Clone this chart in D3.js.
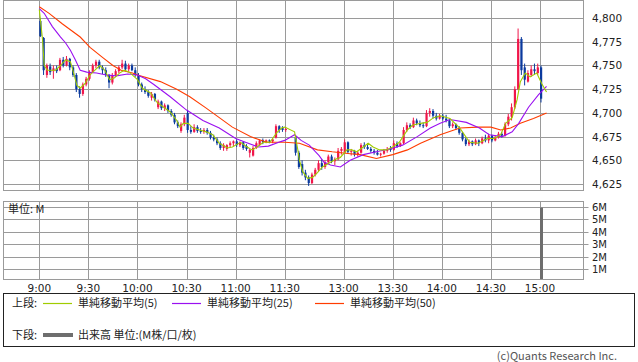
<!DOCTYPE html>
<html><head><meta charset="utf-8">
<script src="https://cdn.jsdelivr.net/npm/d3@7/dist/d3.min.js"></script>
<style>
html,body{margin:0;padding:0;background:#fff;}
svg{display:block;font-family:"Noto Sans CJK JP","Noto Sans",sans-serif;}
.num{font-family:"DejaVu Sans",sans-serif;}
</style></head>
<body>
<svg id="c" width="638" height="362"></svg>
<script>
// ---------- DATA ----------
const timeTicks = ["9:00","9:30","10:00","10:30","11:00","11:30","13:00","13:30","14:00","14:30","15:00"];
const priceTicks = [4625,4650,4675,4700,4725,4750,4775,4800];
const volumeTicks = [1,2,3,4,5,6];
// 2-minute candles: morning 9:00-11:30, afternoon 12:30-15:00
const sessionStarts = ["9:00","12:30"];
const candleStep = 2;
const candlesPerSession = 76;
const candleOpen = [
4797,4779,4740,4749,4744,4747,4745,4756,4750,4757,4748,4740,4725,4720,4730,4736,4743,4750,4754,4748,
4745,4740,4732,4740,4744,4748,4752,4746,4750,4745,4740,4730,4725,4722,4716,4720,4706,4712,4705,4708,
4702,4698,4690,4681,4688,4700,4682,4680,4685,4681,4680,4682,4679,4674,4672,4668,4663,4662,4666,4668,
4670,4666,4669,4665,4658,4655,4663,4666,4671,4669,4671,4670,4674,4686,4684,4682,
4674,4658,4646,4637,4632,4626,4635,4640,4647,4643,4648,4654,4649,4651,4660,4658,4669,4659,4660,4656,
4658,4666,4664,4662,4660,4658,4656,4657,4660,4662,4661,4668,4665,4668,4682,4687,4685,4692,4689,4687,
4686,4700,4702,4697,4694,4697,4694,4692,4686,4688,4684,4679,4672,4667,4670,4667,4671,4668,4673,4671,
4676,4671,4674,4678,4676,4688,4696,4706,4725,4778,4748,4733,4740,4746,4742,4748];
const candleHigh = [
4800,4780,4752,4752,4750,4750,4758,4759,4760,4758,4750,4742,4728,4732,4738,4745,4752,4756,4756,4750,
4748,4741,4742,4746,4750,4756,4755,4752,4752,4748,4742,4732,4728,4724,4722,4721,4714,4713,4710,4709,
4704,4700,4692,4690,4698,4703,4686,4688,4687,4684,4684,4684,4681,4677,4674,4670,4668,4667,4670,4671,
4672,4670,4670,4667,4662,4665,4670,4672,4673,4672,4672,4673,4688,4687,4686,4685,
4675,4660,4650,4640,4634,4637,4642,4650,4651,4650,4656,4656,4653,4663,4664,4672,4670,4662,4661,4660,
4668,4669,4668,4664,4662,4661,4658,4662,4664,4665,4671,4670,4669,4685,4690,4689,4695,4694,4692,4690,
4703,4705,4704,4700,4699,4699,4698,4694,4690,4689,4686,4680,4674,4672,4671,4673,4672,4675,4677,4678,
4677,4676,4680,4680,4690,4699,4710,4728,4789,4780,4752,4745,4750,4752,4752,4750];
const candleLow = [
4780,4740,4737,4740,4736,4742,4744,4748,4749,4745,4738,4722,4716,4718,4728,4734,4742,4747,4746,4741,
4738,4726,4730,4738,4742,4746,4744,4744,4744,4738,4728,4722,4720,4716,4713,4712,4704,4703,4702,4700,
4696,4688,4684,4679,4686,4679,4678,4679,4679,4678,4678,4677,4672,4670,4666,4661,4660,4660,4664,4665,
4664,4664,4661,4660,4653,4654,4662,4665,4667,4668,4668,4668,4673,4679,4680,4680,
4655,4641,4634,4629,4623,4625,4633,4638,4640,4641,4646,4647,4645,4650,4656,4657,4657,4655,4654,4654,
4657,4662,4661,4658,4656,4655,4654,4656,4658,4659,4660,4663,4664,4667,4680,4683,4684,4687,4685,4684,
4685,4696,4694,4692,4693,4692,4690,4684,4684,4682,4677,4670,4665,4665,4665,4666,4665,4667,4669,4668,
4669,4670,4673,4674,4675,4686,4692,4704,4724,4740,4729,4732,4738,4740,4740,4711];
const candleClose = [
4781,4745,4750,4743,4747,4744,4756,4750,4757,4748,4740,4725,4720,4730,4736,4743,4750,4754,4748,4745,
4740,4732,4740,4744,4748,4752,4746,4750,4745,4740,4730,4725,4722,4718,4720,4714,4712,4705,4708,4702,
4698,4690,4686,4688,4695,4682,4680,4685,4681,4680,4682,4679,4674,4672,4668,4663,4666,4666,4668,4670,
4666,4669,4663,4662,4661,4663,4668,4671,4669,4671,4670,4672,4686,4682,4682,4683,
4658,4643,4637,4632,4626,4635,4640,4647,4643,4648,4654,4649,4651,4660,4662,4669,4659,4660,4656,4658,
4666,4664,4662,4660,4658,4656,4657,4660,4662,4661,4668,4665,4668,4682,4687,4685,4692,4689,4687,4686,
4700,4702,4697,4694,4697,4694,4692,4686,4688,4684,4679,4672,4667,4670,4667,4671,4668,4673,4671,4676,
4671,4674,4678,4676,4688,4696,4706,4725,4778,4745,4735,4742,4746,4744,4748,4715];

const ma5 = [["9:00",4809],["9:02",4777],["9:03",4750],["9:05",4745],["9:10",4745],["9:13",4750],["9:16",4756],
["9:19",4754],["9:21",4742],["9:23",4729],["9:25",4726],["9:28",4731],["9:31",4740],["9:34",4745],["9:37",4750],
["9:40",4745],["9:43",4735],["9:46",4737],["9:49",4742],["9:52",4745],["9:55",4743],["10:00",4735],["10:03",4726],
["10:08",4721],["10:12",4711],["10:16",4706],["10:20",4701],["10:24",4692],["10:26",4685],["10:28",4689],
["10:31",4689],["10:34",4684],["10:38",4682],["10:42",4680],["10:46",4677],["10:50",4668],["10:55",4663],
["10:58",4664],["11:03",4669],["11:07",4664],["11:10",4661],["11:13",4664],["11:17",4669],["11:21",4669],
["11:25",4679],["11:28",4684],["11:30",4685],["12:30",4680],["12:32",4661],["12:33",4650],["12:35",4638],
["12:38",4631],["12:41",4632],["12:44",4637],["12:47",4643],["12:52",4648],["12:56",4652],["12:58",4653],
["13:02",4661],["13:05",4661],["13:08",4659],["13:12",4664],["13:15",4668],["13:18",4664],["13:22",4661],
["13:26",4661],["13:30",4664],["13:34",4669],["13:39",4682],["13:42",4687],["13:47",4689],["13:51",4690],
["13:55",4695],["13:59",4697],["14:05",4694],["14:11",4684],["14:17",4669],["14:22",4668],["14:28",4673],
["14:32",4673],["14:36",4677],["14:39",4689],["14:43",4695],["14:46",4714],["14:48",4733],["14:51",4742],
["14:54",4738],["14:58",4742],["15:01",4731],["15:04",4722]];
const ma25 = [["9:00",4810],["9:03",4805],["9:08",4791],["9:13",4780],["9:16",4774],["9:19",4766],["9:22",4756],
["9:25",4745],["9:29",4743],["9:35",4742],["9:41",4740],["9:47",4739],["9:54",4741],["10:00",4740],["10:05",4736],
["10:10",4730],["10:20",4717],["10:30",4703],["10:40",4692],["10:50",4684],["11:00",4673],["11:06",4669],
["11:14",4664],["11:20",4665],["11:28",4670],["11:30",4671],["12:30",4677],["12:34",4671],["12:39",4666],
["12:45",4655],["12:48",4648],["12:52",4645],["12:58",4643],["13:04",4650],["13:12",4656],["13:20",4659],
["13:28",4662],["13:36",4666],["13:45",4675],["13:53",4684],["13:59",4689],["14:05",4693],["14:15",4690],
["14:23",4684],["14:29",4677],["14:37",4675],["14:43",4680],["14:47",4689],["14:53",4706],["14:59",4719],["15:04",4728]];
const ma50 = [["9:00",4812],["9:06",4805],["9:14",4794],["9:25",4780],["9:31",4769],["9:39",4758],["9:45",4750],
["9:50",4745],["9:57",4742],["10:00",4740],["10:14",4733],["10:24",4725],["10:32",4717],["10:42",4705],
["10:46",4700],["10:58",4685],["11:09",4675],["11:19",4669],["11:30",4669],["12:33",4668],["12:44",4661],
["12:53",4659],["13:04",4657],["13:10",4656],["13:20",4652],["13:30",4656],["13:39",4661],["13:47",4668],
["13:59",4677],["14:11",4684],["14:22",4685],["14:30",4685],["14:36",4682],["14:42",4684],["14:48",4689],
["14:56",4694],["15:04",4700]];
const volumeTimes = ["15:00"];
const volumeValues = [5.95];

const legendTop = ["単純移動平均(5)","単純移動平均(25)","単純移動平均(50)"];
const legendBottom = "出来高 単位:(M株/口/枚)";

// ---------- HELPERS ----------
function toMin(t){const p=t.split(":").map(Number);return p[0]*60+p[1]-540;}
function sessMin(t){const m=toMin(t);return m<=150?m:m-54;}   // lunch break compressed
function fmt(m){return Math.floor(m/60)+":"+String(m%60).padStart(2,"0");}

const candleTimes=[];
sessionStarts.forEach(s=>{const base=toMin(s)+540;for(let i=0;i<candlesPerSession;i++)candleTimes.push(fmt(base+i*candleStep));});
const candles=candleTimes.map((t,i)=>({t,o:candleOpen[i],h:candleHigh[i],l:candleLow[i],c:candleClose[i]}));

// ---------- LAYOUT ----------
const svg=d3.select("#c");
const L=3.5,R=583.5,T=0.5,B=190.5, VT=201.5, VB=279.5;
const x=d3.scaleLinear().domain([0,306]).range([39.3,540]);
const y=d3.scaleLinear().domain([4618.7,4818]).range([190,1]);
const yv=d3.scaleLinear().domain([0,6.5]).range([281.4,200.8]);
const grid="#9a9a9a";

svg.append("rect").attr("width",638).attr("height",362).attr("fill","#fff");

// price panel grid
const gp=svg.append("g");
gp.selectAll(".hy").data(priceTicks).join("line")
 .attr("x1",L).attr("x2",R).attr("y1",d=>Math.round(y(d))+0.5).attr("y2",d=>Math.round(y(d))+0.5)
 .attr("stroke",grid);
gp.selectAll(".vx").data(timeTicks).join("line")
 .attr("x1",d=>Math.round(x(sessMin(d)))+0.5).attr("x2",d=>Math.round(x(sessMin(d)))+0.5)
 .attr("y1",T).attr("y2",B).attr("stroke",grid);
gp.append("rect").attr("x",L).attr("y",T).attr("width",R-L).attr("height",B-T)
 .attr("fill","none").attr("stroke",grid);

// volume panel grid
const gv=svg.append("g");
gv.selectAll(".hy").data(volumeTicks).join("line")
 .attr("x1",L).attr("x2",R+5).attr("y1",d=>Math.round(yv(d))+0.5).attr("y2",d=>Math.round(yv(d))+0.5)
 .attr("stroke",grid);
gv.selectAll(".vx").data(timeTicks).join("line")
 .attr("x1",d=>Math.round(x(sessMin(d)))+0.5).attr("x2",d=>Math.round(x(sessMin(d)))+0.5)
 .attr("y1",VT).attr("y2",VB).attr("stroke",grid);
gv.append("rect").attr("x",L).attr("y",VT).attr("width",R-L).attr("height",VB-VT)
 .attr("fill","none").attr("stroke",grid);

// candles
const up="#f0164a", dn="#0b3a9e";
const gc=svg.append("g");
gc.selectAll("line").data(candles).join("line")
 .attr("x1",d=>x(sessMin(d.t))+1).attr("x2",d=>x(sessMin(d.t))+1)
 .attr("y1",d=>y(d.h)).attr("y2",d=>y(d.l))
 .attr("stroke",d=>d.c>=d.o?up:dn).attr("stroke-width",1);
gc.selectAll("rect").data(candles).join("rect")
 .attr("x",d=>x(sessMin(d.t))).attr("width",2.2)
 .attr("y",d=>y(Math.max(d.o,d.c))).attr("height",d=>Math.max(1,Math.abs(y(d.o)-y(d.c))))
 .attr("fill",d=>d.c>=d.o?up:dn);

// moving averages
const line=d3.line().x(d=>x(sessMin(d[0]))).y(d=>y(d[1]));
[[ma50,"#ff3c00"],[ma25,"#9a10f0"],[ma5,"#a0cc00"]].forEach(([d,c])=>{
  svg.append("path").attr("d",line(d)).attr("fill","none").attr("stroke",c).attr("stroke-width",1.1);
});

// volume bars
svg.selectAll(".vb").data(volumeTimes.map((t,i)=>({t,v:volumeValues[i]}))).join("rect")
 .attr("x",d=>x(sessMin(d.t))).attr("width",3)
 .attr("y",d=>yv(d.v)).attr("height",d=>VB-0.5-yv(d.v)).attr("fill","#6e6e6e");

// axes labels
const tc="#222";
svg.selectAll(".pl").data(priceTicks).join("text").attr("class","num")
 .attr("x",592).attr("y",d=>y(d)+4).attr("font-size",10.5).attr("fill",tc).text(d3.format(","));
svg.selectAll(".vl").data(volumeTicks).join("text").attr("class","num")
 .attr("x",592).attr("y",d=>yv(d)+4).attr("font-size",10).attr("fill",tc).text(d=>d+"M");
svg.selectAll(".tl").data(timeTicks).join("text").attr("class","num")
 .attr("x",d=>x(sessMin(d))).attr("y",292).attr("text-anchor","middle").attr("font-size",10.5).attr("fill",tc).text(d=>d);
svg.append("text").attr("x",8).attr("y",213).attr("font-size",11).attr("fill",tc).text("単位: M");

// legend
const lg=svg.append("g");
lg.append("rect").attr("x",3.5).attr("y",293.5).attr("width",631).attr("height",53).attr("fill","none").attr("stroke","#222");
lg.append("text").attr("x",12).attr("y",307).attr("font-size",11).attr("fill",tc).text("上段:");
const lx=[43,172,315], lc=["#a0cc00","#9a10f0","#ff3c00"];
legendTop.forEach((s,i)=>{
  lg.append("line").attr("x1",lx[i]).attr("x2",lx[i]+29).attr("y1",303.5).attr("y2",303.5).attr("stroke",lc[i]).attr("stroke-width",1.2);
  lg.append("text").attr("x",lx[i]+35).attr("y",307).attr("font-size",11).attr("fill",tc).text(s);
});
lg.append("text").attr("x",12).attr("y",339).attr("font-size",11).attr("fill",tc).text("下段:");
lg.append("line").attr("x1",43).attr("x2",73).attr("y1",335).attr("y2",335).attr("stroke","#6e6e6e").attr("stroke-width",4);
lg.append("text").attr("x",78).attr("y",339).attr("font-size",11).attr("fill",tc).text(legendBottom);

svg.append("text").attr("x",617).attr("y",360).attr("text-anchor","end").attr("font-size",11).attr("fill","#555").text("(c)Quants Research Inc.");
</script>
</body></html>
